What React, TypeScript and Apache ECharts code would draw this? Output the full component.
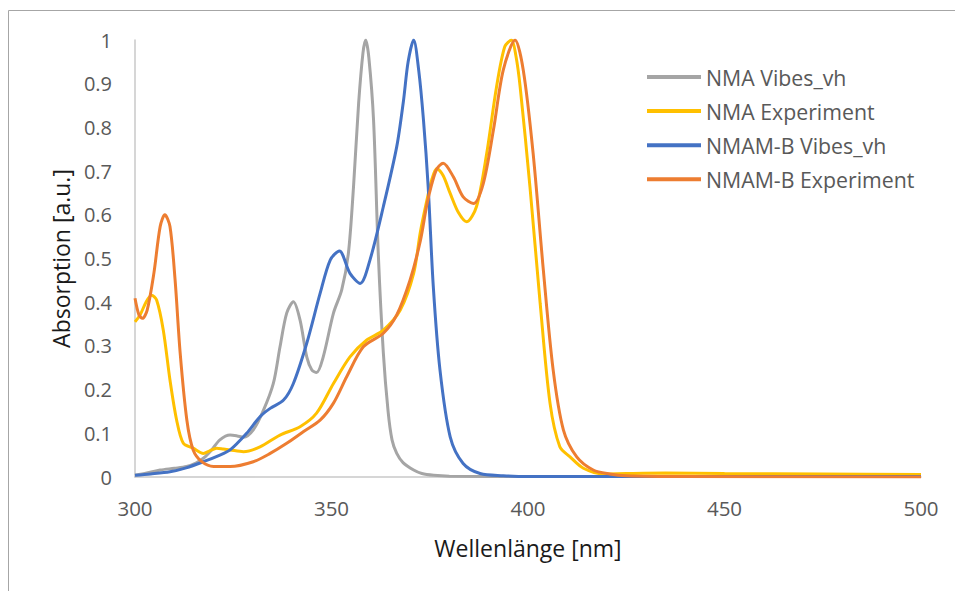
import React, { useEffect, useRef } from "react";
import * as echarts from "echarts";

const seriesNames = ["NMA Vibes_vh", "NMA Experiment", "NMAM-B Vibes_vh", "NMAM-B Experiment"];
const seriesColors = ["#A5A5A5", "#FFC000", "#4472C4", "#ED7D31"];

const nmaVibes: [number, number][] = [
  [300, 0.004], [303, 0.009], [306.4, 0.016], [310, 0.02], [313.1, 0.024], [315.5, 0.032], [317.4, 0.043],
  [319.5, 0.062], [321.6, 0.085], [324.2, 0.096], [326, 0.094], [327.6, 0.091], [330.1, 0.108],
  [332.7, 0.153], [335.2, 0.214], [336.9, 0.298], [338.6, 0.375], [340.3, 0.401], [342.0, 0.359],
  [343.7, 0.275], [345, 0.245], [346.2, 0.239], [347.9, 0.275], [350.5, 0.375], [352.6, 0.428],
  [354.3, 0.512], [355.6, 0.664], [356.9, 0.855], [358.0, 0.97], [358.7, 1.0], [359.5, 0.96],
  [360.7, 0.817], [361.9, 0.512], [363.2, 0.283], [364.4, 0.15], [365.4, 0.085], [366.6, 0.054],
  [368.2, 0.033], [370.9, 0.016], [373, 0.008], [376, 0.004], [380, 0.002], [400, 0.001], [500, 0.001]
];

const nmaExperiment: [number, number][] = [
  [300, 0.355], [301.3, 0.371], [302.8, 0.4], [304.2, 0.416], [305.5, 0.405], [307.2, 0.336],
  [308.9, 0.222], [310.6, 0.13], [312.3, 0.077], [314.8, 0.066], [317.4, 0.054], [319, 0.06], [320.8, 0.066],
  [322.5, 0.064], [324.2, 0.062], [327.6, 0.058], [331.8, 0.069], [336.9, 0.096], [342.0, 0.115],
  [346.2, 0.146], [350.5, 0.214], [354.7, 0.275], [358.9, 0.313], [363.2, 0.336], [367.5, 0.382],
  [370.9, 0.466], [372.6, 0.56], [374.2, 0.63], [375.5, 0.68], [376.8, 0.706], [378.4, 0.69], [380.2, 0.649],
  [382.3, 0.605], [384.4, 0.584], [386.9, 0.619], [389.5, 0.741], [392.0, 0.893], [394.1, 0.985],
  [395.8, 1.0], [396.9, 0.965], [398.0, 0.893], [400.5, 0.664], [403.1, 0.397], [405.6, 0.169],
  [408.1, 0.069], [410.7, 0.046], [414.1, 0.02], [419.2, 0.007], [425, 0.008], [435, 0.009],
  [450, 0.008], [475, 0.007], [500, 0.006]
];

const nmamVibes: [number, number][] = [
  [300, 0.004], [304, 0.007], [308.9, 0.012], [313, 0.021], [317.4, 0.035], [321, 0.048], [324.2, 0.062],
  [328.4, 0.1], [331.8, 0.138], [334.4, 0.157], [337.8, 0.176], [340.3, 0.214], [343.7, 0.306],
  [347.1, 0.42], [349.7, 0.497], [352.0, 0.517], [354.7, 0.466], [357.3, 0.443], [359.8, 0.497],
  [363.2, 0.619], [366.6, 0.756], [368.3, 0.86], [369.5, 0.95], [370.9, 1.0], [372.2, 0.93], [373.4, 0.817],
  [374.6, 0.664], [375.9, 0.436], [377.6, 0.245], [380.2, 0.092], [383.5, 0.031], [387.8, 0.008],
  [393.7, 0.003], [400, 0.001], [500, 0.001]
];

const nmamExperiment: [number, number][] = [
  [300, 0.409], [301.0, 0.371], [301.9, 0.363], [303.1, 0.382], [304.8, 0.466], [306.4, 0.573],
  [307.6, 0.6], [308.9, 0.573], [310.2, 0.451], [311.5, 0.283], [313.2, 0.13], [314.8, 0.062],
  [317.0, 0.035], [320.0, 0.024], [324.2, 0.024], [330.1, 0.035], [334.4, 0.054], [338.6, 0.077],
  [342.9, 0.104], [347.1, 0.13], [350.5, 0.169], [353.9, 0.23], [358.1, 0.298], [363.2, 0.329],
  [366.6, 0.371], [370.0, 0.451], [372.6, 0.54], [374.2, 0.62], [375.5, 0.67], [376.8, 0.705], [378.4, 0.718],
  [381.0, 0.687], [383.5, 0.641], [386.1, 0.626], [388.6, 0.671], [391.2, 0.794], [393.7, 0.931],
  [396.7, 1.0], [398.8, 0.931], [401.3, 0.741], [403.9, 0.474], [406.4, 0.245], [409.0, 0.108],
  [412.4, 0.046], [416.6, 0.016], [420.8, 0.007], [425, 0.003], [440, 0.001], [500, 0.0]
];

const seriesData = [nmaVibes, nmaExperiment, nmamVibes, nmamExperiment];

const xMin = 300, xMax = 500, xStep = 50;
const yMin = 0, yMax = 1, yStep = 0.1;

export default function App() {
  const ref = useRef<HTMLDivElement>(null);
  useEffect(() => {
    document.body.style.margin = "0";
    const chart = echarts.init(ref.current!, null, { renderer: "svg" });
    const font = "'Open Sans', 'Noto Sans', sans-serif";
    chart.setOption({
      animation: false,
      backgroundColor: "#ffffff",
      textStyle: { fontFamily: font },
      grid: { left: 135, right: 34, top: 40, bottom: 114, containLabel: false },
      graphic: [
        {
          type: "rect",
          shape: { x: 8.5, y: 10.5, width: 1000, height: 1000 },
          style: { fill: "none", stroke: "#a6a6a6", lineWidth: 1 },
          silent: true
        }
      ],
      legend: {
        orient: "vertical",
        left: 642,
        top: 61.5,
        itemWidth: 54,
        itemHeight: 4,
        itemGap: 13.1,
        icon: "rect",
        textStyle: { color: "#595959", fontSize: 21.3, fontFamily: font },
        data: seriesNames
      },
      xAxis: {
        type: "value",
        min: xMin,
        max: xMax,
        interval: xStep,
        name: "Wellenlänge [nm]",
        nameLocation: "middle",
        nameGap: 59,
        nameTextStyle: { color: "#1a1a1a", fontSize: 23, fontFamily: font },
        axisLine: { show: true, lineStyle: { color: "#c8c8c8", width: 1.5 } },
        axisTick: { show: false },
        axisLabel: { color: "#595959", fontSize: 20.5, margin: 20, fontFamily: font },
        splitLine: { show: false }
      },
      yAxis: {
        type: "value",
        min: yMin,
        max: yMax,
        interval: yStep,
        name: "Absorption [a.u.]",
        nameLocation: "middle",
        nameGap: 62,
        nameTextStyle: { color: "#1a1a1a", fontSize: 23, fontFamily: font },
        axisLine: { show: true, lineStyle: { color: "#c8c8c8", width: 1.5 } },
        axisTick: { show: false },
        axisLabel: {
          color: "#595959",
          fontSize: 20,
          margin: 23,
          fontFamily: font,
          formatter: (v: number) => String(Math.round(v * 10) / 10)
        },
        splitLine: { show: false }
      },
      series: seriesNames.map((name, i) => ({
        name,
        type: "line",
        data: seriesData[i],
        showSymbol: false,
        symbol: "none",
        smooth: 0.3,
        lineStyle: { color: seriesColors[i], width: 3 },
        itemStyle: { color: seriesColors[i] },
        z: 2 + i
      }))
    });
    return () => chart.dispose();
  }, []);
  return (
    <div
      ref={ref}
      style={{ position: "absolute", left: 0, top: 0, width: 955, height: 591 }}
    />
  );
}
